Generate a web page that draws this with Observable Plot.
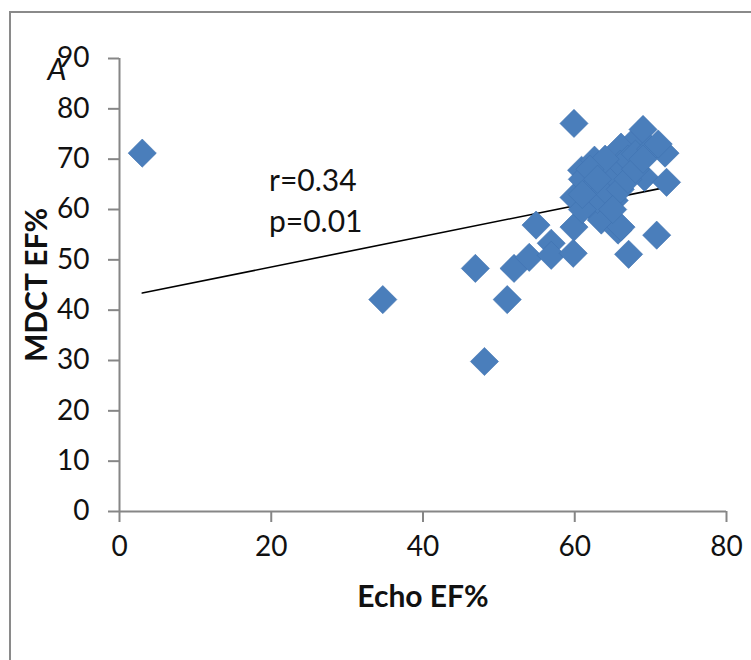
<!DOCTYPE html>
<html>
<head>
<meta charset="utf-8">
<script src="https://cdn.jsdelivr.net/npm/d3@7"></script>
<script src="https://cdn.jsdelivr.net/npm/@observablehq/plot@0.6"></script>
<style>
  html, body { margin: 0; padding: 0; background: #fff; overflow: hidden; }
  #wrap { position: relative; width: 751px; height: 660px; }
  #frame { position: absolute; left: 9px; top: 11px; width: 800px; height: 800px; border-left: 2px solid #8a8a8a; border-top: 2px solid #8a8a8a; pointer-events: none; }
  #chart { position: absolute; left: 0; top: 0; }
</style>
</head>
<body>
<div id="wrap"><div id="chart"></div><div id="frame"></div></div>
<script>
// Echo EF% (x) vs MDCT EF% (y)
const echoEF = [3.0, 34.7, 46.9, 48.1, 51.1, 52.0, 54.0, 54.9, 56.9, 56.9, 59.8, 59.9, 59.9, 59.9, 60.9, 62.6, 62.6, 63.5, 64.4, 65.2, 65.7, 66.1, 66.1, 67.1, 68.4, 69.0, 69.2, 70.8, 71.9, 72.1,
  61.0, 62.0, 63.0, 64.0, 65.0, 66.0, 67.0, 68.0, 70.0, 71.0, 64.0, 62.0, 66.0, 67.0, 65.0, 61.0, 63.0, 68.0, 69.0, 61.0];
const mdctEF = [71.2, 42.1, 48.3, 29.8, 42.1, 48.3, 50.5, 56.9, 53.3, 50.9, 51.3, 56.5, 62.4, 77.1, 67.8, 69.8, 59.8, 57.9, 66.4, 61.8, 55.9, 72.4, 56.5, 51.1, 74.4, 75.9, 66.4, 54.9, 71.2, 65.4,
  66.0, 64.0, 62.0, 64.0, 67.0, 69.0, 70.0, 71.0, 72.0, 73.0, 70.0, 68.0, 64.0, 66.0, 60.0, 60.0, 66.0, 68.0, 70.0, 63.0];

// regression line endpoints (Echo EF%, MDCT EF%)
const trendX = [3, 72];
const trendY = [43.4, 64.4];

// annotation
const statText = ["r=0.34", "p=0.01"];
const statX = [19.7, 19.7];
const statY = [65.6, 57.4];

const xTicks = [0, 20, 40, 60, 80];
const yTicks = [0, 10, 20, 30, 40, 50, 60, 70, 80, 90];

const points = echoEF.map((x, i) => ({x, y: mdctEF[i]}));
const trend = trendX.map((x, i) => ({x, y: trendY[i]}));
const stats = statText.map((t, i) => ({t, x: statX[i], y: statY[i]}));

const axisColor = "#868686";
const font = "Lato, 'Open Sans', sans-serif";

const plot = Plot.plot({
  width: 751,
  height: 660,
  marginLeft: 119,
  marginRight: 25,
  marginTop: 58,
  marginBottom: 149,
  style: {fontFamily: font, fontSize: "27px", color: "#111", background: "transparent", overflow: "visible"},
  x: {domain: [0, 80]},
  y: {domain: [0, 90]},
  marks: [
    Plot.ruleX([0], {y1: 0, y2: 90, stroke: axisColor, strokeWidth: 2}),
    Plot.ruleY([0], {x1: 0, x2: 80, stroke: axisColor, strokeWidth: 2}),
    Plot.axisX(xTicks, {tickSize: 11, tickPadding: 14, stroke: axisColor, strokeWidth: 2, fill: "#111", fontSize: 28, label: null}),
    Plot.axisY(yTicks, {tickSize: 11, tickPadding: 19, stroke: axisColor, strokeWidth: 2, fill: "#111", fontSize: 28, label: null}),
    Plot.line(trend, {x: "x", y: "y", stroke: "#000", strokeWidth: 1.6}),
    Plot.dot(points, {x: "x", y: "y", symbol: "diamond2", r: 12.7, fill: "#4A7EBB", stroke: "#3F72B0", strokeWidth: 0.6}),
    Plot.text(stats, {x: "x", y: "y", text: "t", textAnchor: "start", fontSize: 30, fill: "#111"}),
    Plot.text(["Echo EF%"], {frameAnchor: "bottom", textAnchor: "middle", dy: 95, fontWeight: "bold", fontSize: 30, fill: "#111"}),
    Plot.text(["MDCT EF%"], {frameAnchor: "left", textAnchor: "middle", rotate: -90, dx: -82, fontWeight: "bold", fontSize: 30, fill: "#111"}),
    Plot.text(["A"], {frameAnchor: "top-left", dx: -72, dy: 0, fontSize: 30, fontStyle: "italic", fill: "#111"})
  ]
});
document.getElementById("chart").append(plot);
</script>
</body>
</html>
